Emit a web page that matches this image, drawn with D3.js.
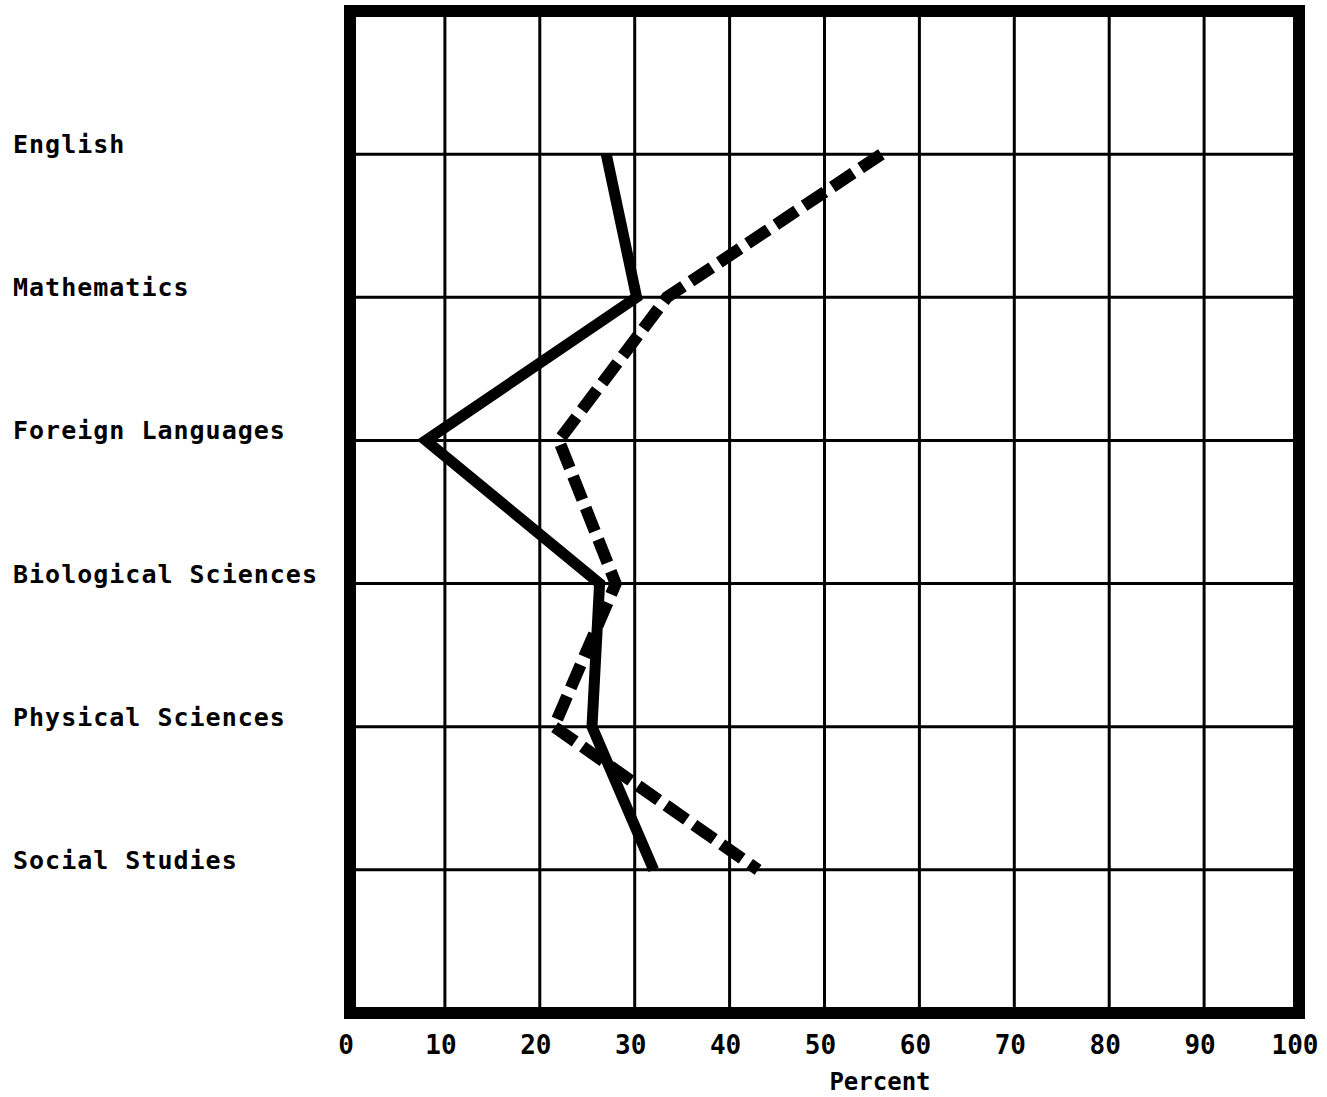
<!DOCTYPE html>
<html>
<head>
<meta charset="utf-8">
<script src="https://cdn.jsdelivr.net/npm/d3@7"></script>
<style>
  body { margin: 0; background: #fff; }
  text { font-family: "DejaVu Sans Mono", monospace; fill: #000; font-weight: bold; }
</style>
</head>
<body>
<div id="chart"></div>
<script>
// subjects, top to bottom
const subjects = ['English', 'Mathematics', 'Foreign Languages', 'Biological Sciences', 'Physical Sciences', 'Social Studies'];
// percent values
const solidValues = [27, 30.2, 8, 26.3, 25.5, 32];
const dashedValues = [56, 33.4, 22, 28, 21.5, 43];
const xTicks = [0, 10, 20, 30, 40, 50, 60, 70, 80, 90, 100];

const width = 1327;
const height = 1097;

const svg = d3.select('#chart').append('svg')
    .attr('width', width)
    .attr('height', height);

const x = d3.scaleLinear()
    .domain([0, 100])
    .range([350, 1299]);

// rows sit on slots 1..6 of a 7-slot frame
const y = d3.scaleLinear()
    .domain([0, subjects.length + 1])
    .range([11, 1013]);

const rowY = (d, i) => y(i + 1);

// vertical grid
svg.append('g')
    .selectAll('line')
    .data(xTicks.slice(1, -1))
    .enter()
    .append('line')
    .attr('x1', d => x(d))
    .attr('x2', d => x(d))
    .attr('y1', y(0))
    .attr('y2', y(subjects.length + 1))
    .attr('stroke', '#000')
    .attr('stroke-width', 3);

// horizontal grid (one per subject)
svg.append('g')
    .selectAll('line')
    .data(subjects)
    .enter()
    .append('line')
    .attr('x1', x(0))
    .attr('x2', x(100))
    .attr('y1', rowY)
    .attr('y2', rowY)
    .attr('stroke', '#000')
    .attr('stroke-width', 3);

// heavy frame
svg.append('rect')
    .attr('x', x(0))
    .attr('y', y(0))
    .attr('width', x(100) - x(0))
    .attr('height', y(subjects.length + 1) - y(0))
    .attr('fill', 'none')
    .attr('stroke', '#000')
    .attr('stroke-width', 12);

// subject labels
svg.append('g')
    .selectAll('text')
    .data(subjects)
    .enter()
    .append('text')
    .attr('x', 13)
    .attr('y', (d, i) => rowY(d, i) - 8)
    .attr('dominant-baseline', 'middle')
    .style('font-size', '25px')
    .style('letter-spacing', '1px')
    .text(d => d);

// x tick labels
svg.append('g')
    .selectAll('text')
    .data(xTicks)
    .enter()
    .append('text')
    .attr('x', d => x(d) - 4)
    .attr('y', 1054)
    .attr('text-anchor', 'middle')
    .style('font-size', '26px')
    .text(d => d);

svg.append('text')
    .attr('x', 880)
    .attr('y', 1090)
    .attr('text-anchor', 'middle')
    .style('font-size', '24px')
    .text('Percent');

const line = d3.line()
    .x(d => x(d))
    .y((d, i) => y(i + 1));

svg.append('path')
    .datum(solidValues)
    .attr('d', line)
    .attr('fill', 'none')
    .attr('stroke', '#000')
    .attr('stroke-width', 11)
    .attr('stroke-linejoin', 'miter');

svg.append('path')
    .datum(dashedValues)
    .attr('d', line)
    .attr('fill', 'none')
    .attr('stroke', '#000')
    .attr('stroke-width', 12)
    .attr('stroke-dasharray', '25,9');
</script>
</body>
</html>
